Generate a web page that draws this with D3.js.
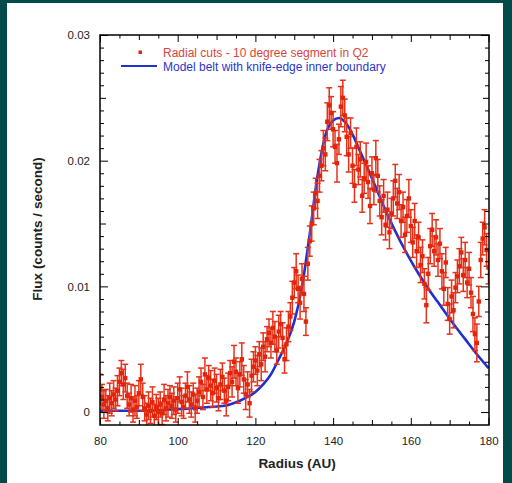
<!DOCTYPE html>
<html>
<head>
<meta charset="utf-8">
<script src="https://cdn.jsdelivr.net/npm/d3@7"></script>
<style>
  html, body { margin: 0; padding: 0; background: #034b4b; }
  svg { display: block; font-family: "Liberation Sans", Arial, sans-serif; }
</style>
</head>
<body>
<svg id="chart" width="512" height="483"></svg>
<script>
// sampling grid of the radial cut (AU)
const radius = d3.range(80, 180.25, 0.5);

// measured flux (counts / second), one value per radius
const flux = [
  0.0018,0.0012,0.0006,0.0009,0.0003,0.0011,0.0007,0.0014,0.0010,0.0017,
  0.0024,0.0031,0.0022,0.0027,0.0013,0.0006,0.0011,0.0002,0.0009,0.0004,
  0.0015,0.0026,0.0012,0.0003,-0.0002,0.0005,0.0001,0.0008,-0.0003,0.0004,
  0.0000,0.0006,-0.0001,0.0010,0.0003,0.0007,0.0012,0.0005,0.0009,0.0002,
  0.0011,0.0018,0.0008,0.0004,0.0013,0.0020,0.0010,0.0006,0.0014,0.0003,
  0.0009,0.0016,0.0024,0.0012,0.0030,0.0018,0.0027,0.0021,0.0015,0.0025,
  0.0019,0.0011,0.0022,0.0028,0.0017,0.0009,0.0020,0.0031,0.0024,0.0040,
  0.0032,0.0019,0.0030,0.0042,0.0026,0.0014,0.0022,0.0007,0.0029,0.0036,
  0.0041,0.0033,0.0046,0.0038,0.0052,0.0044,0.0058,0.0063,0.0055,0.0067,
  0.0060,0.0049,0.0064,0.0070,0.0059,0.0042,0.0054,0.0068,0.0076,0.0091,
  0.0103,0.0112,0.0098,0.0087,0.0106,0.0094,0.0072,0.0118,0.0136,0.0150,
  0.0162,0.0174,0.0168,0.0188,0.0196,0.0210,0.0205,0.0231,0.0244,0.0238,
  0.0225,0.0211,0.0198,0.0217,0.0243,0.0250,0.0236,0.0219,0.0205,0.0222,
  0.0196,0.0180,0.0211,0.0193,0.0201,0.0172,0.0186,0.0199,0.0183,0.0164,
  0.0190,0.0177,0.0202,0.0188,0.0168,0.0155,0.0172,0.0149,0.0161,0.0143,
  0.0158,0.0170,0.0184,0.0166,0.0175,0.0152,0.0163,0.0141,0.0156,0.0170,
  0.0148,0.0135,0.0152,0.0128,0.0139,0.0117,0.0124,0.0102,0.0085,0.0110,
  0.0132,0.0145,0.0128,0.0139,0.0121,0.0134,0.0112,0.0098,0.0119,0.0086,
  0.0074,0.0092,0.0081,0.0099,0.0108,0.0116,0.0127,0.0109,0.0121,0.0103,
  0.0114,0.0095,0.0078,0.0062,0.0055,0.0088,0.0121,0.0138,0.0147,0.0129,
  0.0115
];

// 1-sigma error on each flux value
const fluxErr = [
  .0012,.0010,.0011,.0009,.0010,.0012,.0010,.0011,.0009,.0012,
  .0011,.0010,.0012,.0011,.0010,.0009,.0011,.0010,.0012,.0009,
  .0010,.0012,.0011,.0010,.0009,.0011,.0010,.0012,.0009,.0010,
  .0011,.0010,.0009,.0012,.0010,.0011,.0009,.0010,.0011,.0010,
  .0012,.0010,.0011,.0009,.0010,.0012,.0011,.0010,.0009,.0011,
  .0010,.0012,.0011,.0010,.0013,.0011,.0010,.0012,.0011,.0010,
  .0011,.0010,.0012,.0011,.0010,.0012,.0011,.0010,.0012,.0013,
  .0011,.0012,.0010,.0013,.0011,.0012,.0010,.0011,.0013,.0012,
  .0011,.0012,.0010,.0013,.0011,.0012,.0010,.0011,.0012,.0013,
  .0012,.0011,.0013,.0010,.0012,.0011,.0013,.0012,.0011,.0013,
  .0012,.0014,.0011,.0013,.0012,.0014,.0011,.0013,.0012,.0014,
  .0013,.0012,.0014,.0013,.0012,.0014,.0013,.0015,.0014,.0013,
  .0014,.0013,.0015,.0012,.0016,.0014,.0013,.0015,.0014,.0012,
  .0014,.0013,.0015,.0012,.0014,.0013,.0012,.0015,.0013,.0014,
  .0013,.0012,.0014,.0013,.0012,.0014,.0013,.0012,.0014,.0013,
  .0012,.0014,.0013,.0012,.0014,.0013,.0012,.0014,.0013,.0015,
  .0013,.0012,.0014,.0013,.0012,.0014,.0013,.0012,.0014,.0013,
  .0014,.0013,.0012,.0014,.0013,.0012,.0014,.0013,.0012,.0013,
  .0012,.0013,.0014,.0012,.0013,.0014,.0012,.0013,.0014,.0012,
  .0013,.0012,.0014,.0013,.0015,.0012,.0014,.0013,.0014,.0013,
  .0013
];

// model belt with knife-edge inner boundary
const modelR    = [80, 86, 92, 98, 104, 108, 112, 116, 118, 120, 122, 124, 126, 128, 130, 132, 134, 136, 138, 140, 141.5, 143, 145, 147, 150, 153, 156, 159, 162, 165, 168, 171, 174, 177, 180];
const modelFlux = [0.0001, 0.0001, 0.0001, 0.0002, 0.0003, 0.0004, 0.0005, 0.0009, 0.0012, 0.0016, 0.0022, 0.0030, 0.0042, 0.0055, 0.0072, 0.0100, 0.0142, 0.0188, 0.0220, 0.0232, 0.0234, 0.0231, 0.0221, 0.0207, 0.0186, 0.0164, 0.0144, 0.0126, 0.0110, 0.0096, 0.0083, 0.0070, 0.0058, 0.0046, 0.0035];

const xMajor = [80, 100, 120, 140, 160, 180];
const yMajor = [0, 0.01, 0.02, 0.03];

const red = "#e2250a";
const blue = "#1f2fd0";

const svg = d3.select("#chart");
const pLeft = 100, pRight = 489, pTop = 35, pBottom = 425;

svg.append("rect")
  .attr("x", 7).attr("y", 3)
  .attr("width", 496).attr("height", 480)
  .attr("fill", "#fff");

const x = d3.scaleLinear().domain([80, 180]).range([pLeft, pRight - 0.5]);
const y = d3.scaleLinear().domain([-0.00103, 0.03]).range([pBottom, pTop]);

svg.append("clipPath").attr("id", "clip")
  .append("rect")
  .attr("x", pLeft).attr("y", pTop)
  .attr("width", pRight - pLeft).attr("height", pBottom - pTop);

const plot = svg.append("g").attr("clip-path", "url(#clip)");

// model curve
const line = d3.line()
  .x((d, i) => x(modelR[i]))
  .y(d => y(d))
  .curve(d3.curveMonotoneX);

plot.append("path")
  .datum(modelFlux)
  .attr("fill", "none")
  .attr("stroke", blue)
  .attr("stroke-width", 2.6)
  .attr("d", line);

// data with error bars
const pts = radius.map((r, i) => ({ r: r, f: flux[i], e: fluxErr[i] }));

const eb = plot.append("g")
  .attr("stroke", "#e5321a")
  .attr("stroke-width", 1.5);

eb.selectAll(".bar").data(pts).enter().append("line")
  .attr("x1", d => x(d.r)).attr("x2", d => x(d.r))
  .attr("y1", d => y(d.f - d.e)).attr("y2", d => y(d.f + d.e));

eb.selectAll(".capt").data(pts).enter().append("line")
  .attr("x1", d => x(d.r) - 3).attr("x2", d => x(d.r) + 3)
  .attr("y1", d => y(d.f + d.e)).attr("y2", d => y(d.f + d.e));

eb.selectAll(".capb").data(pts).enter().append("line")
  .attr("x1", d => x(d.r) - 3).attr("x2", d => x(d.r) + 3)
  .attr("y1", d => y(d.f - d.e)).attr("y2", d => y(d.f - d.e));

plot.append("g").selectAll("rect").data(pts).enter().append("rect")
  .attr("x", d => x(d.r) - 2.2)
  .attr("y", d => y(d.f) - 2.2)
  .attr("width", 4.4).attr("height", 4.4)
  .attr("fill", red);

// ticks on all four sides, pointing inward
const xMinor = d3.range(80, 181, 5).filter(v => v % 10 !== 0);
const xMid = d3.range(90, 180, 20);
const yMinor = d3.range(0, 0.0305, 0.001).filter(v => Math.round(v * 1000) % 5 !== 0);
const yMid = [0.005, 0.015, 0.025];

function tickSet(axisFn, scale, values, size, transform) {
  const g = svg.append("g")
    .attr("transform", transform)
    .call(axisFn(scale).tickValues(values).tickSize(-size).tickFormat(""));
  g.select(".domain").remove();
  g.selectAll("line").attr("stroke", "#000").attr("stroke-width", 1);
  return g;
}

[[xMinor, 3.5], [xMid, 5], [xMajor, 7]].forEach(([v, s]) => {
  tickSet(d3.axisBottom, x, v, s, `translate(0,${pBottom})`);
  tickSet(d3.axisTop, x, v, s, `translate(0,${pTop})`);
});
[[yMinor, 4], [yMid, 6], [yMajor, 8]].forEach(([v, s]) => {
  tickSet(d3.axisLeft, y, v, s, `translate(${pLeft},0)`);
  tickSet(d3.axisRight, y, v, s, `translate(${pRight},0)`);
});

// tick labels
const xl = svg.append("g")
  .attr("transform", `translate(0,${pBottom})`)
  .call(d3.axisBottom(x).tickValues(xMajor).tickSize(0).tickPadding(12).tickFormat(d3.format("d")));
xl.select(".domain").remove();
xl.selectAll("text").attr("font-size", 11.5).attr("fill", "#222").style("font-family", "Liberation Sans, Arial, sans-serif");

const yl = svg.append("g")
  .attr("transform", `translate(${pLeft},0)`)
  .call(d3.axisLeft(y).tickValues(yMajor).tickSize(0).tickPadding(10).tickFormat(d => d === 0 ? "0" : d3.format(".2f")(d)));
yl.select(".domain").remove();
yl.selectAll("text").attr("font-size", 11.5).attr("fill", "#222").style("font-family", "Liberation Sans, Arial, sans-serif");

// frame
svg.append("rect")
  .attr("x", pLeft).attr("y", pTop)
  .attr("width", pRight - pLeft).attr("height", pBottom - pTop)
  .attr("fill", "none")
  .attr("stroke", "#000")
  .attr("stroke-width", 1.5);

// axis titles
svg.append("text")
  .attr("x", 297).attr("y", 468)
  .attr("text-anchor", "middle")
  .attr("font-size", 13.5).attr("font-weight", "bold").attr("fill", "#222")
  .text("Radius (AU)");

svg.append("text")
  .attr("transform", "translate(42,229) rotate(-90)")
  .attr("text-anchor", "middle")
  .attr("font-size", 13.5).attr("font-weight", "bold").attr("fill", "#222")
  .text("Flux (counts / second)");

// legend
svg.append("rect")
  .attr("x", 138.5).attr("y", 50.5)
  .attr("width", 3.5).attr("height", 3.5)
  .attr("fill", red);
svg.append("text")
  .attr("x", 163).attr("y", 56.5)
  .attr("font-size", 12).attr("fill", "#d8453a")
  .text("Radial cuts - 10 degree segment in Q2");

svg.append("line")
  .attr("x1", 121).attr("x2", 157)
  .attr("y1", 66).attr("y2", 66)
  .attr("stroke", blue).attr("stroke-width", 2);
svg.append("text")
  .attr("x", 163).attr("y", 70.5)
  .attr("font-size", 12).attr("fill", "#2d34c8")
  .text("Model belt with knife-edge inner boundary");
</script>
</body>
</html>
